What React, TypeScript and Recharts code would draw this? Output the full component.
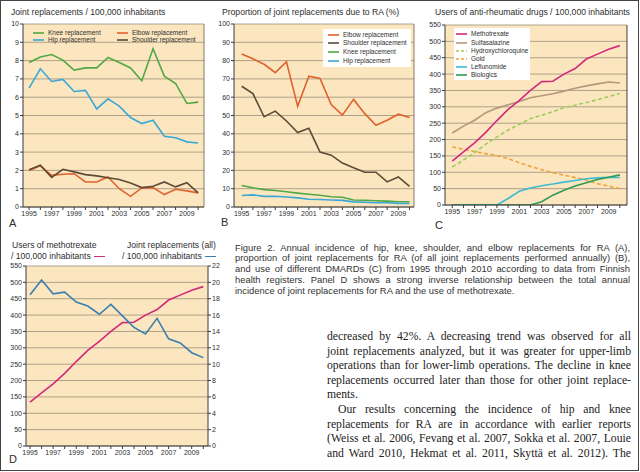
import { CartesianGrid, Line, LineChart, ReferenceLine, XAxis, YAxis } from "recharts"

/* ---------- data ---------- */

const years = [1995, 1996, 1997, 1998, 1999, 2000, 2001, 2002, 2003, 2004, 2005, 2006, 2007, 2008, 2009, 2010]

// A: joint replacements / 100,000 inhabitants
const kneeRate = [7.9, 8.2, 8.33, 8.03, 7.48, 7.6, 7.6, 8.17, 7.9, 7.6, 6.9, 8.65, 7.15, 6.75, 5.66, 5.73]
const hipRate = [6.5, 7.55, 6.86, 6.97, 6.31, 6.37, 5.36, 5.91, 5.51, 4.89, 4.56, 4.74, 3.87, 3.78, 3.56, 3.5]
const elbowRate = [2.0, 2.25, 1.73, 1.79, 1.82, 1.37, 1.37, 1.64, 1.0, 0.58, 1.04, 1.06, 0.68, 0.97, 0.88, 0.77]
const shoulderRate = [2.04, 2.28, 1.62, 2.06, 1.92, 1.77, 1.7, 1.6, 1.5, 1.31, 1.06, 1.13, 1.37, 1.1, 1.33, 0.77]
const rateTicks = [0, 1, 2, 3, 4, 5, 6, 7, 8, 9, 10]

// B: proportion of joint replacements due to RA (%)
const elbowShare = [83.6, 81, 78, 73.4, 79.4, 55, 71.5, 70.3, 56, 50.2, 58.8, 51, 44.7, 47.4, 50.7, 48.9]
const shoulderShare = [66, 62, 49.3, 52.4, 47, 40.7, 43, 30, 28.3, 24, 21.5, 19, 19, 13.7, 16.4, 11.3]
const kneeShare = [11.7, 10.5, 9.5, 9, 8.3, 7.6, 7, 6.4, 5.6, 5.3, 3.8, 3.7, 3.4, 3.2, 2.9, 2.9]
const hipShare = [6.3, 6.6, 5.8, 5.9, 5.5, 5.0, 4.2, 4.1, 3.8, 3.6, 2.8, 2.6, 2.3, 2.3, 2.0, 1.9]
const shareTicks = [0, 10, 20, 30, 40, 50, 60, 70, 80, 90, 100]

// C: users of anti-rheumatic drugs / 100,000 inhabitants
const methotrexate = [134, 162, 190, 222, 258, 292, 320, 350, 377, 378, 400, 417, 446, 461, 476, 487]
const sulfasalazine = [220, 241, 259, 282, 296, 306, 316, 328, 334, 340, 348, 357, 364, 370, 376, 373]
const hydroxychloroquine = [116, 137, 160, 186, 208, 229, 247, 264, 274, 285, 298, 305, 313, 322, 331, 341]
const gold = [178, 170, 163, 157, 151, 142, 129, 118, 108, 99, 91, 84, 76, 65, 58, 50]
const leflunomide = [0, 0, 0, 0, 0, 20, 42, 52, 59, 64, 70, 75, 80, 83, 85, 84]
const biologics = [0, 0, 0, 0, 0, 0, 0, 0, 10, 30, 45, 58, 68, 78, 85, 92]
const userTicks = [0, 50, 100, 150, 200, 250, 300, 350, 400, 450, 500, 550]

// D: all joint replacements / 100,000 inhabitants (right axis)
const allReplacements = [18.5, 20.3, 18.6, 18.8, 17.6, 17.1, 16.1, 17.3, 15.9, 14.5, 13.7, 15.6, 13.1, 12.6, 11.4, 10.8]
const allTicks = [0, 2, 4, 6, 8, 10, 12, 14, 16, 18, 20, 22]

const caption = [
  "Figure 2. Annual incidence of hip, knee, shoulder, and elbow replacements for RA (A),",
  "proportion of joint replacements for RA (of all joint replacements performed annually) (B),",
  "and use of different DMARDs (C) from 1995 through 2010 according to data from Finnish",
  "health registers. Panel D shows a strong inverse relationship between the total annual",
  "incidence of joint replacements for RA and the use of methotrexate.",
]

const bodyText = [
  "decreased by 42%. A decreasing trend was observed for all",
  "joint replacements analyzed, but it was greater for upper-limb",
  "operations than for lower-limb operations. The decline in knee",
  "replacements occurred later than those for other joint replace-",
  "ments.",
  "Our results concerning the incidence of hip and knee",
  "replacements for RA are in accordance with earlier reports",
  "(Weiss et al. 2006, Fevang et al. 2007, Sokka et al. 2007, Louie",
  "and Ward 2010, Hekmat et al. 2011, Skyttä et al. 2012). The",
]

/* ---------- styling ---------- */

const SANS = "'Liberation Sans', Arial, sans-serif"
const PLOT_BG = "#fbe6c0"
const GRID = "#9c8f78"
const AXIS = "#3a3a3a"
const TEXT = "#2e2e2e"

const C = {
  knee: "#52a845",
  hip: "#3aa8d6",
  elbow: "#e0612c",
  shoulder: "#5c4a36",
  mtx: "#d4297b",
  ssz: "#b6977c",
  hcq: "#9ccd5a",
  gold: "#f0a336",
  lef: "#3fbad3",
  bio: "#2e9a55",
  all: "#3a7fad",
}

const rows = years.map((year, i) => ({
  year,
  kneeRate: kneeRate[i],
  hipRate: hipRate[i],
  elbowRate: elbowRate[i],
  shoulderRate: shoulderRate[i],
  elbowShare: elbowShare[i],
  shoulderShare: shoulderShare[i],
  kneeShare: kneeShare[i],
  hipShare: hipShare[i],
  methotrexate: methotrexate[i],
  sulfasalazine: sulfasalazine[i],
  hydroxychloroquine: hydroxychloroquine[i],
  gold: gold[i],
  leflunomide: leflunomide[i],
  biologics: biologics[i],
  allReplacements: allReplacements[i],
}))

const tickStyle = { fontSize: 7, fill: TEXT, fontFamily: SANS }
const oddYear = (v: number) => (v % 2 === 1 ? String(v) : "")

function xAxis(domain: [number, number]) {
  return (
    <XAxis
      dataKey="year"
      type="number"
      domain={domain}
      ticks={years}
      interval={0}
      tickFormatter={oddYear}
      tick={tickStyle}
      tickSize={3}
      tickMargin={1}
      height={14}
      stroke={AXIS}
      allowDataOverflow
    />
  )
}

function yAxis(domain: [number, number], ticks: number[], id = "left", orientation: "left" | "right" = "left", width = 20) {
  return (
    <YAxis
      yAxisId={id}
      orientation={orientation}
      type="number"
      domain={domain}
      ticks={ticks}
      interval={0}
      tick={tickStyle}
      tickSize={3}
      tickMargin={1}
      width={width}
      stroke={AXIS}
      allowDataOverflow
    />
  )
}

function grid() {
  return <CartesianGrid yAxisId="left" vertical={false} stroke={GRID} strokeWidth={0.8} fill={PLOT_BG} fillOpacity={1} />
}

function line(key: string, color: string, dash?: string, axis = "left") {
  return (
    <Line
      key={key}
      yAxisId={axis}
      dataKey={key}
      stroke={color}
      strokeWidth={1.6}
      strokeDasharray={dash}
      dot={false}
      isAnimationActive={false}
    />
  )
}

/* ---------- small pieces ---------- */

function Text({ x, y, size = 8.6, children, style }: any) {
  return (
    <div
      style={{
        position: "absolute",
        left: x,
        top: y - size * 0.6,
        fontSize: size,
        lineHeight: `${size * 1.2}px`,
        whiteSpace: "nowrap",
        color: TEXT,
        fontFamily: SANS,
        ...style,
      }}
    >
      {children}
    </div>
  )
}

function Key({ x, y, color, label, dash }: { x: number; y: number; color: string; label: string; dash?: string }) {
  return (
    <>
      <svg style={{ position: "absolute", left: x, top: y - 2, width: 12, height: 4 }}>
        <line x1={0} y1={2} x2={11} y2={2} stroke={color} strokeWidth={1.6} strokeDasharray={dash} />
      </svg>
      <Text x={x + 15} y={y} size={6.5}>
        {label}
      </Text>
    </>
  )
}

function Chart({ left, top, width, height, margin, children }: any) {
  return (
    <div style={{ position: "absolute", left, top, width, height }}>
      <LineChart width={width} height={height} data={rows} margin={margin}>
        {children}
      </LineChart>
    </div>
  )
}

export default function App() {
  return (
    <div style={{ position: "relative", width: 640, height: 472, background: "#fff", overflow: "hidden", fontFamily: SANS }}>
      <style>{"body{margin:0}"}</style>
      <div
        style={{
          position: "absolute",
          left: 0,
          top: 0,
          width: 639,
          height: 471,
          boxSizing: "border-box",
          border: "1px solid #444",
        }}
      />

      {/* ---------- A ---------- */}
      <Text x={11} y={12}>Joint replacements / 100,000 inhabitants</Text>
      <Chart left={0} top={18} width={208} height={205} margin={{ top: 6, right: 4, left: 3, bottom: 2 }}>
        {grid()}
        {xAxis([1994.46, 2010.52])}
        {yAxis([0, 10], rateTicks)}
        <ReferenceLine yAxisId="left" x={2010.52} stroke="#6b5d48" strokeWidth={0.8} />
        {line("kneeRate", C.knee)}
        {line("hipRate", C.hip)}
        {line("elbowRate", C.elbow)}
        {line("shoulderRate", C.shoulder)}
      </Chart>
      <Key x={33} y={33} color={C.knee} label="Knee replacement" />
      <Key x={33} y={40} color={C.hip} label="Hip replacement" />
      <Key x={117} y={33} color={C.elbow} label="Elbow replacement" />
      <Key x={117} y={40} color={C.shoulder} label="Shoulder replacement" />
      <Text x={9} y={224} size={11}>A</Text>

      {/* ---------- B ---------- */}
      <Text x={222} y={12}>Proportion of joint replacements due to RA (%)</Text>
      <Chart left={211} top={18} width={207} height={205} margin={{ top: 6, right: 4, left: 3, bottom: 2 }}>
        {grid()}
        {xAxis([1994.31, 2010.4])}
        {yAxis([0, 100], shareTicks)}
        <ReferenceLine yAxisId="left" x={2010.4} stroke="#6b5d48" strokeWidth={0.8} />
        {line("elbowShare", C.elbow)}
        {line("shoulderShare", C.shoulder)}
        {line("kneeShare", C.knee)}
        {line("hipShare", C.hip)}
      </Chart>
      <div style={{ position: "absolute", left: 323, top: 29, width: 88, height: 38, background: "#fff" }} />
      <Key x={328} y={34.5} color={C.elbow} label="Elbow replacement" />
      <Key x={328} y={43.3} color={C.shoulder} label="Shoulder replacement" />
      <Key x={328} y={52.2} color={C.knee} label="Knee replacement" />
      <Key x={328} y={61} color={C.hip} label="Hip replacement" />
      <Text x={221} y={223} size={11}>B</Text>

      {/* ---------- C ---------- */}
      <Text x={435} y={12}>Users of anti-rheumatic drugs / 100,000 inhabitants</Text>
      <Chart left={422} top={19} width={209} height={202} margin={{ top: 6, right: 4, left: 3, bottom: 2 }}>
        {grid()}
        {xAxis([1994.35, 2010.64])}
        {yAxis([0, 550], userTicks)}
        <ReferenceLine yAxisId="left" x={2010.64} stroke="#4a4030" strokeWidth={1} />
        {line("gold", C.gold, "4 2.5")}
        {line("hydroxychloroquine", C.hcq, "4 2.5")}
        {line("sulfasalazine", C.ssz)}
        {line("leflunomide", C.lef)}
        {line("biologics", C.bio)}
        {line("methotrexate", C.mtx)}
      </Chart>
      <div style={{ position: "absolute", left: 454, top: 28, width: 76, height: 52, background: "#fff" }} />
      <Key x={456} y={34.3} color={C.mtx} label="Methotrexate" />
      <Key x={456} y={42.6} color={C.ssz} label="Sulfasalazine" />
      <Key x={456} y={50.8} color={C.hcq} label="Hydroxychloroquine" dash="3 2" />
      <Key x={456} y={59} color={C.gold} label="Gold" dash="3 2" />
      <Key x={456} y={67.2} color={C.lef} label="Leflunomide" />
      <Key x={456} y={75.2} color={C.bio} label="Biologics" />
      <Text x={435} y={226} size={11}>C</Text>

      {/* ---------- D ---------- */}
      <Text x={12} y={245}>Users of methotrexate</Text>
      <Text x={11} y={256}>/ 100,000 inhabitants</Text>
      <div style={{ position: "absolute", left: 94, top: 255.5, width: 11, height: 1.6, background: C.mtx }} />
      <Text x={127} y={245}>Joint replacements (all)</Text>
      <Text x={122} y={256}>/ 100,000 inhabitants</Text>
      <div style={{ position: "absolute", left: 205, top: 255.5, width: 11, height: 1.6, background: C.all }} />
      <Chart left={3} top={260} width={225} height={202} margin={{ top: 6, right: 4, left: 3, bottom: 2 }}>
        {grid()}
        {xAxis([1994.65, 2010.41])}
        {yAxis([0, 550], userTicks)}
        {yAxis([0, 22], allTicks, "right", "right", 16)}
        {line("methotrexate", C.mtx)}
        {line("allReplacements", C.all, undefined, "right")}
      </Chart>
      <Text x={9} y={460} size={11}>D</Text>

      {/* ---------- caption ---------- */}
      {caption.map((t, i) => (
        <div
          key={i}
          style={{
            position: "absolute",
            left: 235,
            top: 247 + i * 10.75 - 5.5,
            width: 395,
            fontSize: 9.4,
            lineHeight: "11px",
            color: "#333",
            fontFamily: SANS,
            textAlign: "justify",
            textAlignLast: i < caption.length - 1 ? "justify" : "left",
          }}
        >
          {t}
        </div>
      ))}

      {/* ---------- body text ---------- */}
      {bodyText.map((t, i) => (
        <div
          key={i}
          style={{
            position: "absolute",
            left: i === 5 ? 338 : 327,
            top: 337 + i * 14.6 - 8,
            width: i === 5 ? 293 : 304,
            fontSize: 11.7,
            lineHeight: "16px",
            color: "#222",
            fontFamily: "'Liberation Serif', 'Times New Roman', serif",
            textAlign: "justify",
            textAlignLast: i === 4 ? "left" : "justify",
          }}
        >
          {t}
        </div>
      ))}
    </div>
  )
}
